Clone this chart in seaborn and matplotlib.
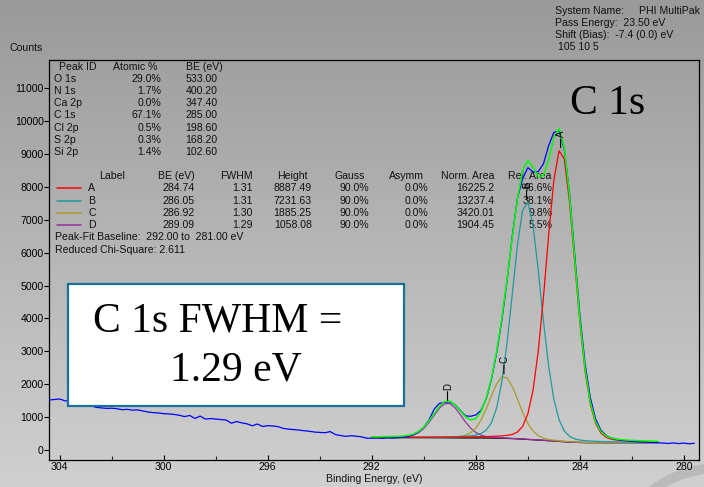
import numpy as np
import matplotlib
matplotlib.use("Agg")
import matplotlib.pyplot as plt
import seaborn as sns
from matplotlib.patches import Rectangle, Arc
from matplotlib.lines import Line2D
from matplotlib.colors import LinearSegmentedColormap

# ---------------- data ----------------
# raw spectrum (counts), binding energy from 304.4 eV downwards in 0.2 eV steps
raw_counts = [
    1525, 1540, 1555, 1500, 1490, 1470, 1440, 1400, 1350, 1300,
    1285, 1270, 1275, 1260, 1230, 1240, 1215, 1225, 1190, 1160,
    1140, 1130, 1110, 1100, 1085, 1060, 1020, 1055, 965, 1035,
    945, 960, 945, 930, 915, 820, 870, 830, 800, 740,
    795, 720, 745, 735, 715, 660, 640, 625, 610, 590,
    575, 550, 540, 530, 565, 475, 445, 420, 440, 425,
    405, 365,
    # 292.0 ... 281.0
    365, 372, 360, 378, 368, 382, 395, 410, 470, 560, 700,
    920, 1250, 1420, 1455, 1470, 1380, 1210, 1040, 1030, 1070,
    1210, 1560, 2150, 2960, 3950, 5150, 6500, 7650, 8250, 8580,
    8450, 8460, 8700, 9250, 9650, 9700, 9150, 7800, 5950, 4100,
    2620, 1600, 960, 620, 450, 370, 330, 300, 285, 270,
    255, 250, 240, 235, 228,
    # 280.8 ... 279.6
    215, 205, 220, 200, 215, 195, 210,
]
raw_start, raw_step = 304.4, 0.2

# fit region: 292.0 ... 281.0 eV in 0.2 eV steps
fit_start, fit_step = 292.0, 0.2
baseline = [380] * 11 + [379, 379, 378, 377, 375, 374, 373, 373, 372, 372,
                         371, 370, 368, 366, 363, 358, 352, 344, 335, 326,
                         316, 307, 298, 288, 278, 267, 257, 247, 240, 234,
                         231, 229, 229, 228, 228, 228, 228, 228, 228, 228,
                         228, 228, 228, 228, 228]
pk_a = [7, 7, 8, 8, 9, 10, 11, 11, 12, 12, 13,
        15, 16, 17, 18, 20, 22, 25, 27, 30, 35,
        38, 44, 51, 59, 71, 92, 125, 208, 390, 779,
        1512, 2703, 4353, 6244, 7921, 8827, 8589, 7311, 5483, 3646,
        2168, 1169, 591, 302, 166, 108, 81, 65, 55, 48,
        42, 37, 33, 29, 27]
pk_b = [9, 9, 10, 11, 12, 12, 14, 14, 16, 18, 20,
        21, 23, 27, 30, 34, 39, 44, 52, 65, 86,
        132, 239, 464, 918, 1712, 2897, 4384, 5884, 6959, 7201,
        6504, 5158, 3616, 2256, 1267, 655, 328, 174, 104, 74,
        58, 48, 41, 36, 32, 28, 25, 22, 20, 18,
        17, 15, 14, 13, 12]
pk_c = [3, 3, 4, 4, 4, 5, 5, 6, 6, 7, 8,
        9, 11, 12, 15, 19, 25, 41, 77, 155, 301,
        544, 885, 1284, 1650, 1863, 1837, 1585, 1204, 810, 487,
        265, 135, 68, 37, 24, 18, 14, 12, 10, 9,
        8, 7, 6, 6, 5, 5, 4, 4, 4, 3,
        3, 3, 3, 3, 2]
pk_d = [5, 6, 7, 8, 10, 13, 21, 39, 78, 154, 281,
        465, 687, 899, 1036, 1043, 917, 710, 486, 297, 164,
        84, 42, 23, 14, 10, 8, 7, 6, 5, 5,
        4, 4, 4, 3, 3, 3, 3, 3, 2, 2,
        2, 2, 2, 2, 2, 2, 2, 2, 1, 1,
        1, 1, 1, 1, 1]

# tables
peak_ids = ["O 1s", "N 1s", "Ca 2p", "C 1s", "Cl 2p", "S 2p", "Si 2p"]
atomic_pct = ["29.0%", "1.7%", "0.0%", "67.1%", "0.5%", "0.3%", "1.4%"]
peak_be = ["533.00", "400.20", "347.40", "285.00", "198.60", "168.20", "102.60"]

fit_labels = ["A", "B", "C", "D"]
fit_be = [284.74, 286.05, 286.92, 289.09]
fit_fwhm = ["1.31", "1.31", "1.30", "1.29"]
fit_height = ["8887.49", "7231.63", "1885.25", "1058.08"]
fit_gauss = ["90.0%", "90.0%", "90.0%", "90.0%"]
fit_asymm = ["0.0%", "0.0%", "0.0%", "0.0%"]
fit_norm_area = ["16225.2", "13237.4", "3420.01", "1904.45"]
fit_rel_area = ["46.6%", "38.1%", "9.8%", "5.5%"]
fit_colors = ["#ff0000", "#1f9b9b", "#a89c2a", "#9b2fa0"]

x_ticks = [304, 300, 296, 292, 288, 284, 280]
y_ticks = list(range(0, 12000, 1000))

# ---------------- figure ----------------
sns.set_theme(style="ticks")
plt.rcParams["font.family"] = ["Liberation Sans", "DejaVu Sans"]

W, H = 704, 487
fig = plt.figure(figsize=(W / 100, H / 100), dpi=100)

# gray gradient background
bgax = fig.add_axes([0, 0, 1, 1], zorder=-10)
grad = np.linspace(0, 1, 256)[:, None]
cmap = LinearSegmentedColormap.from_list("g", ["#9a9a9a", "#d0d0d0"])
bgax.imshow(grad, aspect="auto", cmap=cmap, extent=[0, 1, 0, 1], origin="upper")
bgax.set_xlim(0, 1); bgax.set_ylim(0, 1)
bgax.axis("off")
bgax.add_patch(Arc((720 / W, 1 - 583 / H), 2 * 115 / W, 2 * 115 / H,
                   transform=bgax.transAxes, color="#bababa", lw=7))

L, R, T, B = 49.3, 699, 60, 460
ax = fig.add_axes([L / W, 1 - B / H, (R - L) / W, (B - T) / H])
ax.set_facecolor("none")

be_raw = np.round(raw_start - raw_step * np.arange(len(raw_counts)), 2)
be_fit = np.round(fit_start - fit_step * np.arange(len(baseline)), 2)
bg = np.array(baseline, float)
comps = [np.array(p, float) for p in (pk_a, pk_b, pk_c, pk_d)]
envelope = bg + sum(comps)

lw = 0.9
sns.lineplot(x=be_fit, y=bg, ax=ax, color="black", lw=lw, sort=False, estimator=None, zorder=2)
for comp, col in list(zip(comps, fit_colors))[::-1]:
    sns.lineplot(x=be_fit, y=bg + comp, ax=ax, color=col, lw=lw, sort=False, estimator=None, zorder=2)
sns.lineplot(x=be_raw, y=np.array(raw_counts, float), ax=ax, color="#0000ff", lw=lw,
             sort=False, estimator=None, zorder=3)
sns.lineplot(x=be_fit, y=envelope, ax=ax, color="#00ff00", lw=1.1, sort=False, estimator=None, zorder=4)

# peak markers
for lab, be, comp in zip(fit_labels, fit_be, comps):
    apex = float(np.max(bg + comp))
    ax.annotate("", xy=(be, apex), xytext=(0, 8.5), textcoords="offset points",
                arrowprops=dict(arrowstyle="-", color="black", lw=0.8, shrinkA=0, shrinkB=2.2),
                zorder=5)
    ax.annotate(lab, xy=(be, apex), xytext=(0.3, 12.5), textcoords="offset points",
                rotation=90, ha="center", va="center", fontsize=7, color="black", zorder=5)

ax.set_xlim(304.4, 279.42)
ax.set_ylim(-298, 11849)
ax.set_xticks(x_ticks)
ax.set_xticklabels([str(t) for t in x_ticks])
ax.set_xticks([302, 298, 294, 290, 286, 282], minor=True)
ax.set_yticks(y_ticks)
ax.set_yticklabels([str(t) for t in y_ticks])
ax.tick_params(axis="x", which="major", direction="in", length=3.8, width=0.8,
               pad=1.2, labelsize=7.6, colors="black")
ax.tick_params(axis="x", which="minor", direction="in", length=3.0, width=0.8)
ax.tick_params(axis="y", which="major", direction="out", length=3.5, width=0.8,
               pad=0.6, labelsize=7.6, colors="black")
for s in ax.spines.values():
    s.set_visible(True)
    s.set_color("black")
    s.set_linewidth(0.9)
ax.set_xlabel("")
ax.set_ylabel("")

FS = 7.6
TC = "#111111"


def ptext(px, py, s, ha="left", fs=FS, z=1, **kw):
    return ax.text(px / W, 1 - py / H, s, transform=fig.transFigure, ha=ha, va="center",
                   fontsize=fs, color=TC, zorder=z, clip_on=False, **kw)


# axis titles
ptext(9, 48, "Counts")
ptext(374, 479, "Binding Energy, (eV)", ha="center")

# header top-right
ptext(555, 11.5, "System Name:")
ptext(639, 11.5, "PHI MultiPak")
ptext(555, 23.3, "Pass Energy:  23.50 eV")
ptext(555, 35, "Shift (Bias):  -7.4 (0.0) eV")
ptext(558.5, 47.5, "105 10 5")

# peak ID table
ptext(59, 66.7, "Peak ID")
ptext(113, 66.7, "Atomic %")
ptext(185.7, 66.7, "BE (eV)")
for i, (pid, pct, be) in enumerate(zip(peak_ids, atomic_pct, peak_be)):
    y = 78.7 + 12.25 * i
    ptext(54, y, pid)
    ptext(161, y, pct, ha="right")
    ptext(185.7, y, be)

# fit table
hy = 176.3
ptext(99, hy, "Label")
ptext(194.3, hy, "BE (eV)", ha="right")
ptext(252.3, hy, "FWHM", ha="right")
ptext(308, hy, "Height", ha="right")
ptext(364.5, hy, "Gauss", ha="right")
ptext(423.8, hy, "Asymm", ha="right")
ptext(494.3, hy, "Norm. Area", ha="right")
ptext(551.8, hy, "Rel. Area", ha="right")
for i in range(4):
    y = 188.4 + 12.2 * i
    ax.add_line(Line2D([56.7 / W, 81 / W], [1 - y / H, 1 - y / H], transform=fig.transFigure,
                       color=fit_colors[i], lw=1.1, zorder=1, clip_on=False))
    ptext(88.3, y, fit_labels[i])
    ptext(194.3, y, f"{fit_be[i]:.2f}", ha="right")
    ptext(252.3, y, fit_fwhm[i], ha="right")
    ptext(311.8, y, fit_height[i], ha="right")
    ptext(369.6, y, fit_gauss[i], ha="right")
    ptext(427.9, y, fit_asymm[i], ha="right")
    ptext(494.6, y, fit_norm_area[i], ha="right")
    ptext(552.9, y, fit_rel_area[i], ha="right")
ptext(55.4, 237.5, "Peak-Fit Baseline:  292.00 to  281.00 eV")
ptext(55.4, 250.3, "Reduced Chi-Square: 2.611")

# big annotations
serif = ["Liberation Serif", "DejaVu Serif"]
ax.text(570 / W, 1 - 104 / H, "C 1s", transform=fig.transFigure, ha="left", va="center",
        fontsize=30, family=serif, color="black", zorder=6)
box = Rectangle((67.5 / W, 1 - 406 / H), (403.5 - 67.5) / W, (406 - 283.5) / H,
                transform=fig.transFigure, facecolor="white", edgecolor="#1e6e9c",
                lw=1.6, zorder=6, clip_on=False)
ax.add_patch(box)
ax.text(93 / W, 1 - 321 / H, "C 1s FWHM =", transform=fig.transFigure, ha="left", va="center",
        fontsize=30, family=serif, color="black", zorder=7)
ax.text(170 / W, 1 - 370 / H, "1.29 eV", transform=fig.transFigure, ha="left", va="center",
        fontsize=30, family=serif, color="black", zorder=7)

fig.savefig("out.png", dpi=100)
